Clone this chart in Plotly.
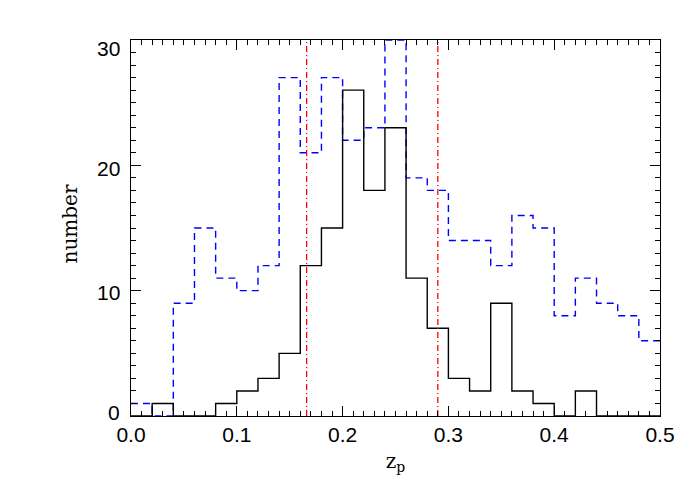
import plotly.graph_objects as go

# left edges of the 0.02-wide bins
bin_left = [0.00, 0.02, 0.04, 0.06, 0.08, 0.10, 0.12, 0.14, 0.16, 0.18,
            0.20, 0.22, 0.24, 0.26, 0.28, 0.30, 0.32, 0.34, 0.36, 0.38,
            0.40, 0.42, 0.44, 0.46, 0.48]
x_end = 0.50

counts_solid = [0, 1, 0, 0, 1, 2, 3, 5, 12, 15,
                26, 18, 23, 11, 7, 3, 2, 9, 2, 1,
                0, 2, 0, 0, 0]
counts_dashed = [1, 0, 9, 15, 11, 10, 12, 27, 21, 27,
                 22, 23, 30, 19, 18, 14, 14, 12, 16, 15,
                 8, 11, 9, 8, 6]

vlines = [0.166, 0.290]

x_ticks = [0.0, 0.1, 0.2, 0.3, 0.4, 0.5]
x_ticktext = ["0.0", "0.1", "0.2", "0.3", "0.4", "0.5"]
y_ticks = [0, 10, 20, 30]
y_ticktext = ["0", "10", "20", "30"]

fig = go.Figure()

fig.add_trace(go.Scatter(
    x=bin_left + [x_end], y=counts_dashed + [counts_dashed[-1]],
    mode="lines", line_shape="hv",
    line=dict(color="#0000ff", width=1.4, dash="7px,5px"),
    showlegend=False,
))
fig.add_trace(go.Scatter(
    x=bin_left + [x_end], y=counts_solid + [counts_solid[-1]],
    mode="lines", line_shape="hv",
    line=dict(color="black", width=1.4),
    showlegend=False,
))
for xv in vlines:
    fig.add_trace(go.Scatter(
        x=[xv, xv], y=[0, 30], mode="lines",
        line=dict(color="#ff0000", width=1.3, dash="6px,3px,1px,3px"),
        showlegend=False,
    ))

axis_common = dict(
    showgrid=False, zeroline=False, showline=True, linecolor="black",
    linewidth=1.3, mirror="allticks", ticks="inside", ticklen=10,
    tickwidth=1.2, tickcolor="black", automargin=False,
    tickfont=dict(family="Liberation Sans", size=21, color="black"),
)

fig.update_xaxes(
    range=[0, 0.5], tickvals=x_ticks, ticktext=x_ticktext,
    minor=dict(ticks="inside", dtick=0.01, ticklen=5, tickcolor="black", tickwidth=1),
    title=dict(text="z<sub>p</sub>", font=dict(family="DejaVu Serif", size=20, color="black"), standoff=8),
    **axis_common,
)
fig.update_yaxes(
    range=[0, 30], tickvals=y_ticks, showticklabels=False,
    minor=dict(ticks="inside", dtick=1, ticklen=5, tickcolor="black", tickwidth=1),
    **axis_common,
)

# IDL-style y tick labels: sit slightly below their ticks, "0" nudged up
label_shift = {0: 4, 10: -2, 20: -3, 30: -8}
for val, txt in zip(y_ticks, y_ticktext):
    fig.add_annotation(
        x=0, xref="paper", xanchor="right", xshift=-9,
        y=val, yref="y", yanchor="middle", yshift=label_shift[val],
        text=txt, showarrow=False,
        font=dict(family="Liberation Sans", size=21, color="black"),
    )

fig.add_annotation(
    x=-0.115, xref="paper", y=0.51, yref="paper", showarrow=False,
    xanchor="center", yanchor="middle",
    text="number", textangle=-90,
    font=dict(family="DejaVu Serif", size=20, color="black"),
)

# page body adds an 8px offset, so the figure is sized to fit the window
fig.update_layout(
    width=692, height=491,
    margin=dict(l=123, r=40, t=32, b=83),
    plot_bgcolor="white", paper_bgcolor="white",
)

fig.write_html("out.html")
